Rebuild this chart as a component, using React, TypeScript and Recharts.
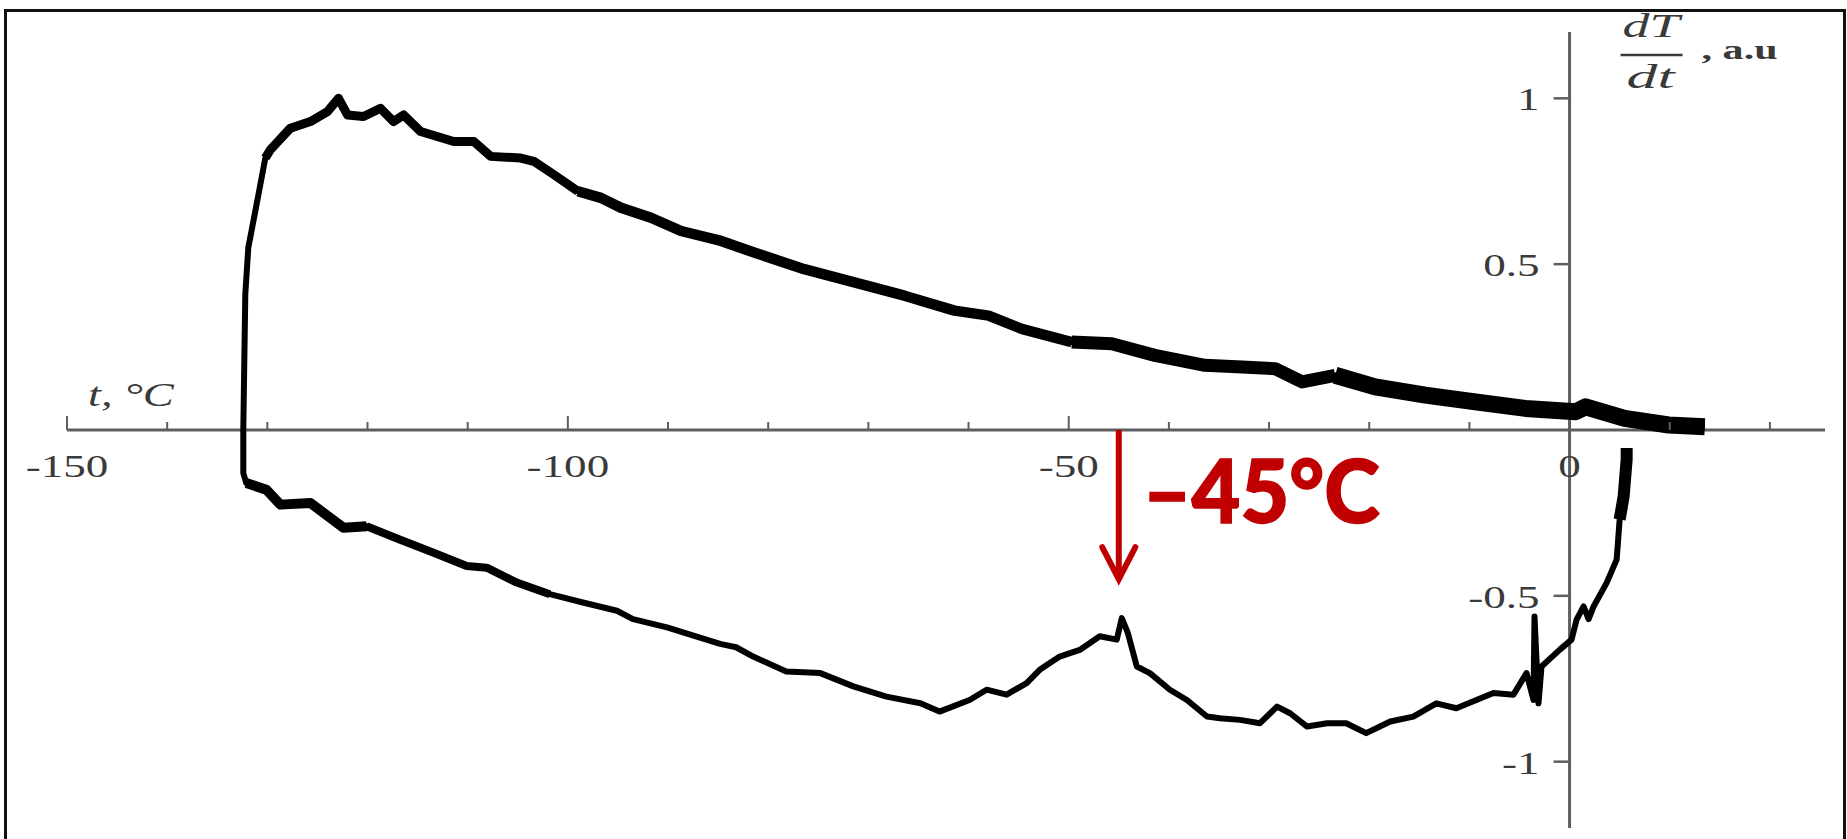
import React from 'react';
import { LineChart, Line, XAxis, YAxis, ReferenceLine, ReferenceDot } from 'recharts';

// ---------- data ----------
// upper branch, in drawing order (from the right end going left, then down)
const upperT = [
  13.5, 9.9, 5.5, 1.6, 0.6, -4.4, -9.4, -14.4, -19.4, -23.4, -26.7, -29.4, -32.7, -36.4,
  -41.4, -45.7, -49.7, -54.7, -58.0, -61.4, -66.4, -71.4, -76.4, -81.4, -84.7, -88.7,
  -91.7, -94.7, -96.7, -99.0, -101.4, -103.4, -104.7, -107.7, -109.4, -111.4, -114.7,
  -116.4, -117.4, -118.7, -120.4, -122.0, -122.9, -124.0, -125.7, -127.7, -129.7, -130.2,
  -131.2, -131.9, -132.2, -132.4,
];
const upperV = [
  0.01, 0.015, 0.035, 0.07, 0.055, 0.065, 0.085, 0.105, 0.13, 0.165, 0.145, 0.185, 0.19, 0.195,
  0.225, 0.26, 0.265, 0.305, 0.345, 0.36, 0.405, 0.445, 0.485, 0.535, 0.57, 0.6,
  0.64, 0.67, 0.7, 0.72, 0.77, 0.81, 0.82, 0.825, 0.87, 0.87, 0.9,
  0.95, 0.93, 0.97, 0.945, 0.95, 1.0, 0.96, 0.93, 0.91, 0.845, 0.82,
  0.66, 0.55, 0.41, 0.0,
];
// lower branch, in drawing order (from the vertical drop going right)
const lowerT = [
  -132.4, -132.1, -130.1, -128.7, -125.7, -122.4, -120.1, -116.8, -113.4, -110.1, -108.1,
  -105.1, -101.8, -98.5, -95.1, -93.5, -90.1, -88.5, -84.8, -83.2, -81.5, -78.2, -74.8,
  -71.5, -68.2, -64.8, -62.9, -59.9, -58.2, -56.2, -54.2, -52.9, -50.9, -48.9, -46.9,
  -45.2, -44.7, -44.1, -43.2, -41.9, -39.9, -38.2, -36.2, -34.9, -32.9, -30.9, -29.2,
  -27.9, -26.2, -24.2, -22.3, -20.3, -17.9, -15.6, -13.3, -11.3, -7.6, -5.6, -4.3, -3.6,
  -3.5, -3.1, -2.8, -1.0, 0.2, 0.7, 1.4, 1.9, 2.4, 3.7, 4.7, 5.0, 5.4, 5.7, 5.7,
];
const lowerV = [
  -0.13, -0.16, -0.18, -0.225, -0.22, -0.295, -0.29, -0.33, -0.37, -0.41, -0.415,
  -0.46, -0.495, -0.52, -0.545, -0.57, -0.595, -0.61, -0.645, -0.655, -0.683, -0.728, -0.733,
  -0.773, -0.804, -0.824, -0.849, -0.814, -0.783, -0.798, -0.763, -0.723, -0.683, -0.663, -0.622,
  -0.632, -0.567, -0.612, -0.713, -0.733, -0.783, -0.814, -0.864, -0.869, -0.874, -0.884, -0.834,
  -0.854, -0.894, -0.884, -0.884, -0.914, -0.879, -0.864, -0.824, -0.839, -0.793, -0.798, -0.733, -0.814,
  -0.562, -0.824, -0.713, -0.663, -0.632, -0.572, -0.532, -0.57, -0.532, -0.461, -0.391, -0.27, -0.2, -0.089, -0.054,
];

const xDomain: [number, number] = [-150, 25.5];
const yDomain: [number, number] = [-1.2, 1.2];
const xMajorTicks = [-150, -100, -50, 0];
const xMajorLabels = ['-150', '-100', '-50', '0'];
const xMinorTicks = [-140, -130, -120, -110, -90, -80, -70, -60, -40, -30, -20, -10, 10, 20];
const yTicks = [1, 0.5, -0.5, -1];
const yTickLabels = ['1', '0.5', '-0.5', '-1'];
const xTitle = 't, °C';
const yTitleTop = 'dT';
const yTitleBottom = 'dt';
const yTitleUnit = ', a.u';
const markT = -45;
const markArrowEndV = -0.45;
const markLabel = '–45°C';

// ---------- styling ----------
const W = 1847;
const H = 839;
const MARGIN = { top: 32, right: 22, bottom: 11, left: 67 };
const AXIS = '#5e5e5e';
const TXT = '#3a3a3a';
const RED = '#C00000';
const SERIF = "'Liberation Serif', 'Times New Roman', serif";
const SX = 1.41; // the original's text is stretched horizontally

type P = { t: number; v: number };
const toPoints = (ts: number[], vs: number[]): P[] => ts.map((t, i) => ({ t, v: vs[i] }));
const upper = toPoints(upperT, upperV);
const lower = toPoints(lowerT, lowerV);
const loop = [...upper, ...lower];
const pick = (arr: P[], a: number, b: number) => arr.filter((p) => p.t >= a && p.t <= b);

// the noisy trace is thicker in some stretches: overlay wider strokes there
const bands: { data: P[]; w: number }[] = [
  { data: pick(upper, -24, 14), w: 17 },
  { data: pick(upper, -50, -23), w: 13 },
  { data: pick(upper, -100, -49), w: 10.5 },
  { data: pick(upper, -130.3, -99), w: 9 },
  { data: pick(lower, -132.2, -118), w: 10 },
  { data: pick(lower, -120.1, -100), w: 8 },
  { data: pick(lower, 4.9, 6), w: 12 },
];

const XTickShape = (label: string | null, major: boolean) => (p: any) => (
  <g>
    <line x1={p.cx} y1={p.cy} x2={p.cx} y2={p.cy - (major ? 14 : 8)} stroke={AXIS} strokeWidth={2} />
    {label !== null && (
      <text
        transform={`translate(${p.cx},${p.cy + 47}) scale(${SX},1)`}
        textAnchor="middle"
        fontFamily={SERIF}
        fontSize={32}
        fill={TXT}
      >
        {label}
      </text>
    )}
  </g>
);

const YTickShape = (label: string) => (p: any) => (
  <g>
    <line x1={p.cx - 16} y1={p.cy} x2={p.cx} y2={p.cy} stroke={AXIS} strokeWidth={2.5} />
    <text
      transform={`translate(${p.cx - 30},${p.cy + 12}) scale(${SX},1)`}
      textAnchor="end"
      fontFamily={SERIF}
      fontSize={32}
      fill={TXT}
    >
      {label}
    </text>
  </g>
);

const XTitleShape = (p: any) => (
  <text
    transform={`translate(${p.cx + 21},${p.cy - 24}) scale(${SX},1)`}
    fontFamily={SERIF}
    fontStyle="italic"
    fontSize={33}
    fill={TXT}
  >
    {xTitle}
  </text>
);

const YTitleShape = (p: any) => (
  <g fill={TXT}>
    <text x={p.cx + 53} y={p.cy + 5} fontFamily={SERIF} fontStyle="italic" fontSize={34} textLength={57} lengthAdjust="spacingAndGlyphs">
      {yTitleTop}
    </text>
    <line x1={p.cx + 51} y1={p.cy + 23} x2={p.cx + 113} y2={p.cy + 23} stroke={TXT} strokeWidth={2.5} />
    <text x={p.cx + 57} y={p.cy + 56} fontFamily={SERIF} fontStyle="italic" fontSize={34} textLength={48} lengthAdjust="spacingAndGlyphs">
      {yTitleBottom}
    </text>
    <text x={p.cx + 132} y={p.cy + 27} fontFamily={SERIF} fontWeight="bold" fontSize={27} textLength={76} lengthAdjust="spacingAndGlyphs">
      {yTitleUnit}
    </text>
  </g>
);

const MarkShape = (p: any) => {
  const x = p.x1;
  const top = Math.min(p.y1, p.y2);
  const tip = Math.max(p.y1, p.y2);
  return (
    <g>
      <line x1={x} y1={top} x2={x} y2={tip - 3} stroke={RED} strokeWidth={6} />
      <polyline
        points={`${x - 16.5},${tip - 32} ${x},${tip} ${x + 16.5},${tip - 32}`}
        fill="none"
        stroke={RED}
        strokeWidth={6}
        strokeLinecap="round"
        strokeLinejoin="miter"
      />
      <text
        x={x + 24}
        y={top + 93}
        fontFamily="Lato, 'Open Sans', sans-serif"
        fontWeight={900}
        fontSize={88}
        fill={RED}
        stroke={RED}
        strokeWidth={1.5}
        textLength={237}
        lengthAdjust="spacingAndGlyphs"
      >
        {markLabel}
      </text>
    </g>
  );
};

export default function App() {
  return (
    <div style={{ position: 'relative', width: W, height: H, overflow: 'hidden', background: '#fff' }}>
      <style>{'body{margin:0;background:#fff}'}</style>
      <div
        style={{
          position: 'absolute',
          left: 4,
          top: 9,
          width: 1842,
          height: 900,
          border: '3px solid #111',
          boxSizing: 'border-box',
        }}
      />
      <div style={{ position: 'absolute', left: 0, top: 0 }}>
        <LineChart width={W} height={H} margin={MARGIN}>
          <XAxis type="number" dataKey="t" domain={xDomain} hide allowDataOverflow />
          <YAxis type="number" dataKey="v" domain={yDomain} hide allowDataOverflow />
          <ReferenceLine y={0} stroke={AXIS} strokeWidth={3} />
          <ReferenceLine x={0} stroke={AXIS} strokeWidth={3} />
          {xMinorTicks.map((t) => (
            <ReferenceDot key={`mn${t}`} x={t} y={0} r={1} shape={XTickShape(null, false)} />
          ))}
          {xMajorTicks.map((t, i) => (
            <ReferenceDot key={`mj${t}`} x={t} y={0} r={1} shape={XTickShape(xMajorLabels[i], t !== 0)} />
          ))}
          {yTicks.map((v, i) => (
            <ReferenceDot key={`yt${v}`} x={0} y={v} r={1} shape={YTickShape(yTickLabels[i])} />
          ))}
          <ReferenceDot x={xDomain[0]} y={0} r={1} shape={XTitleShape} />
          <ReferenceDot x={0} y={yDomain[1]} r={1} shape={YTitleShape} />
          <Line
            data={loop}
            dataKey="v"
            type="linear"
            stroke="#000"
            strokeWidth={6}
            strokeLinejoin="round"
            dot={false}
            activeDot={false}
            isAnimationActive={false}
          />
          {bands.map((b, i) => (
            <Line
              key={`band${i}`}
              data={b.data}
              dataKey="v"
              type="linear"
              stroke="#000"
              strokeWidth={b.w}
              strokeLinejoin="round"
              dot={false}
              activeDot={false}
              isAnimationActive={false}
            />
          ))}
          <ReferenceLine
            segment={[
              { x: markT, y: 0 },
              { x: markT, y: markArrowEndV },
            ]}
            shape={MarkShape}
          />
        </LineChart>
      </div>
    </div>
  );
}
